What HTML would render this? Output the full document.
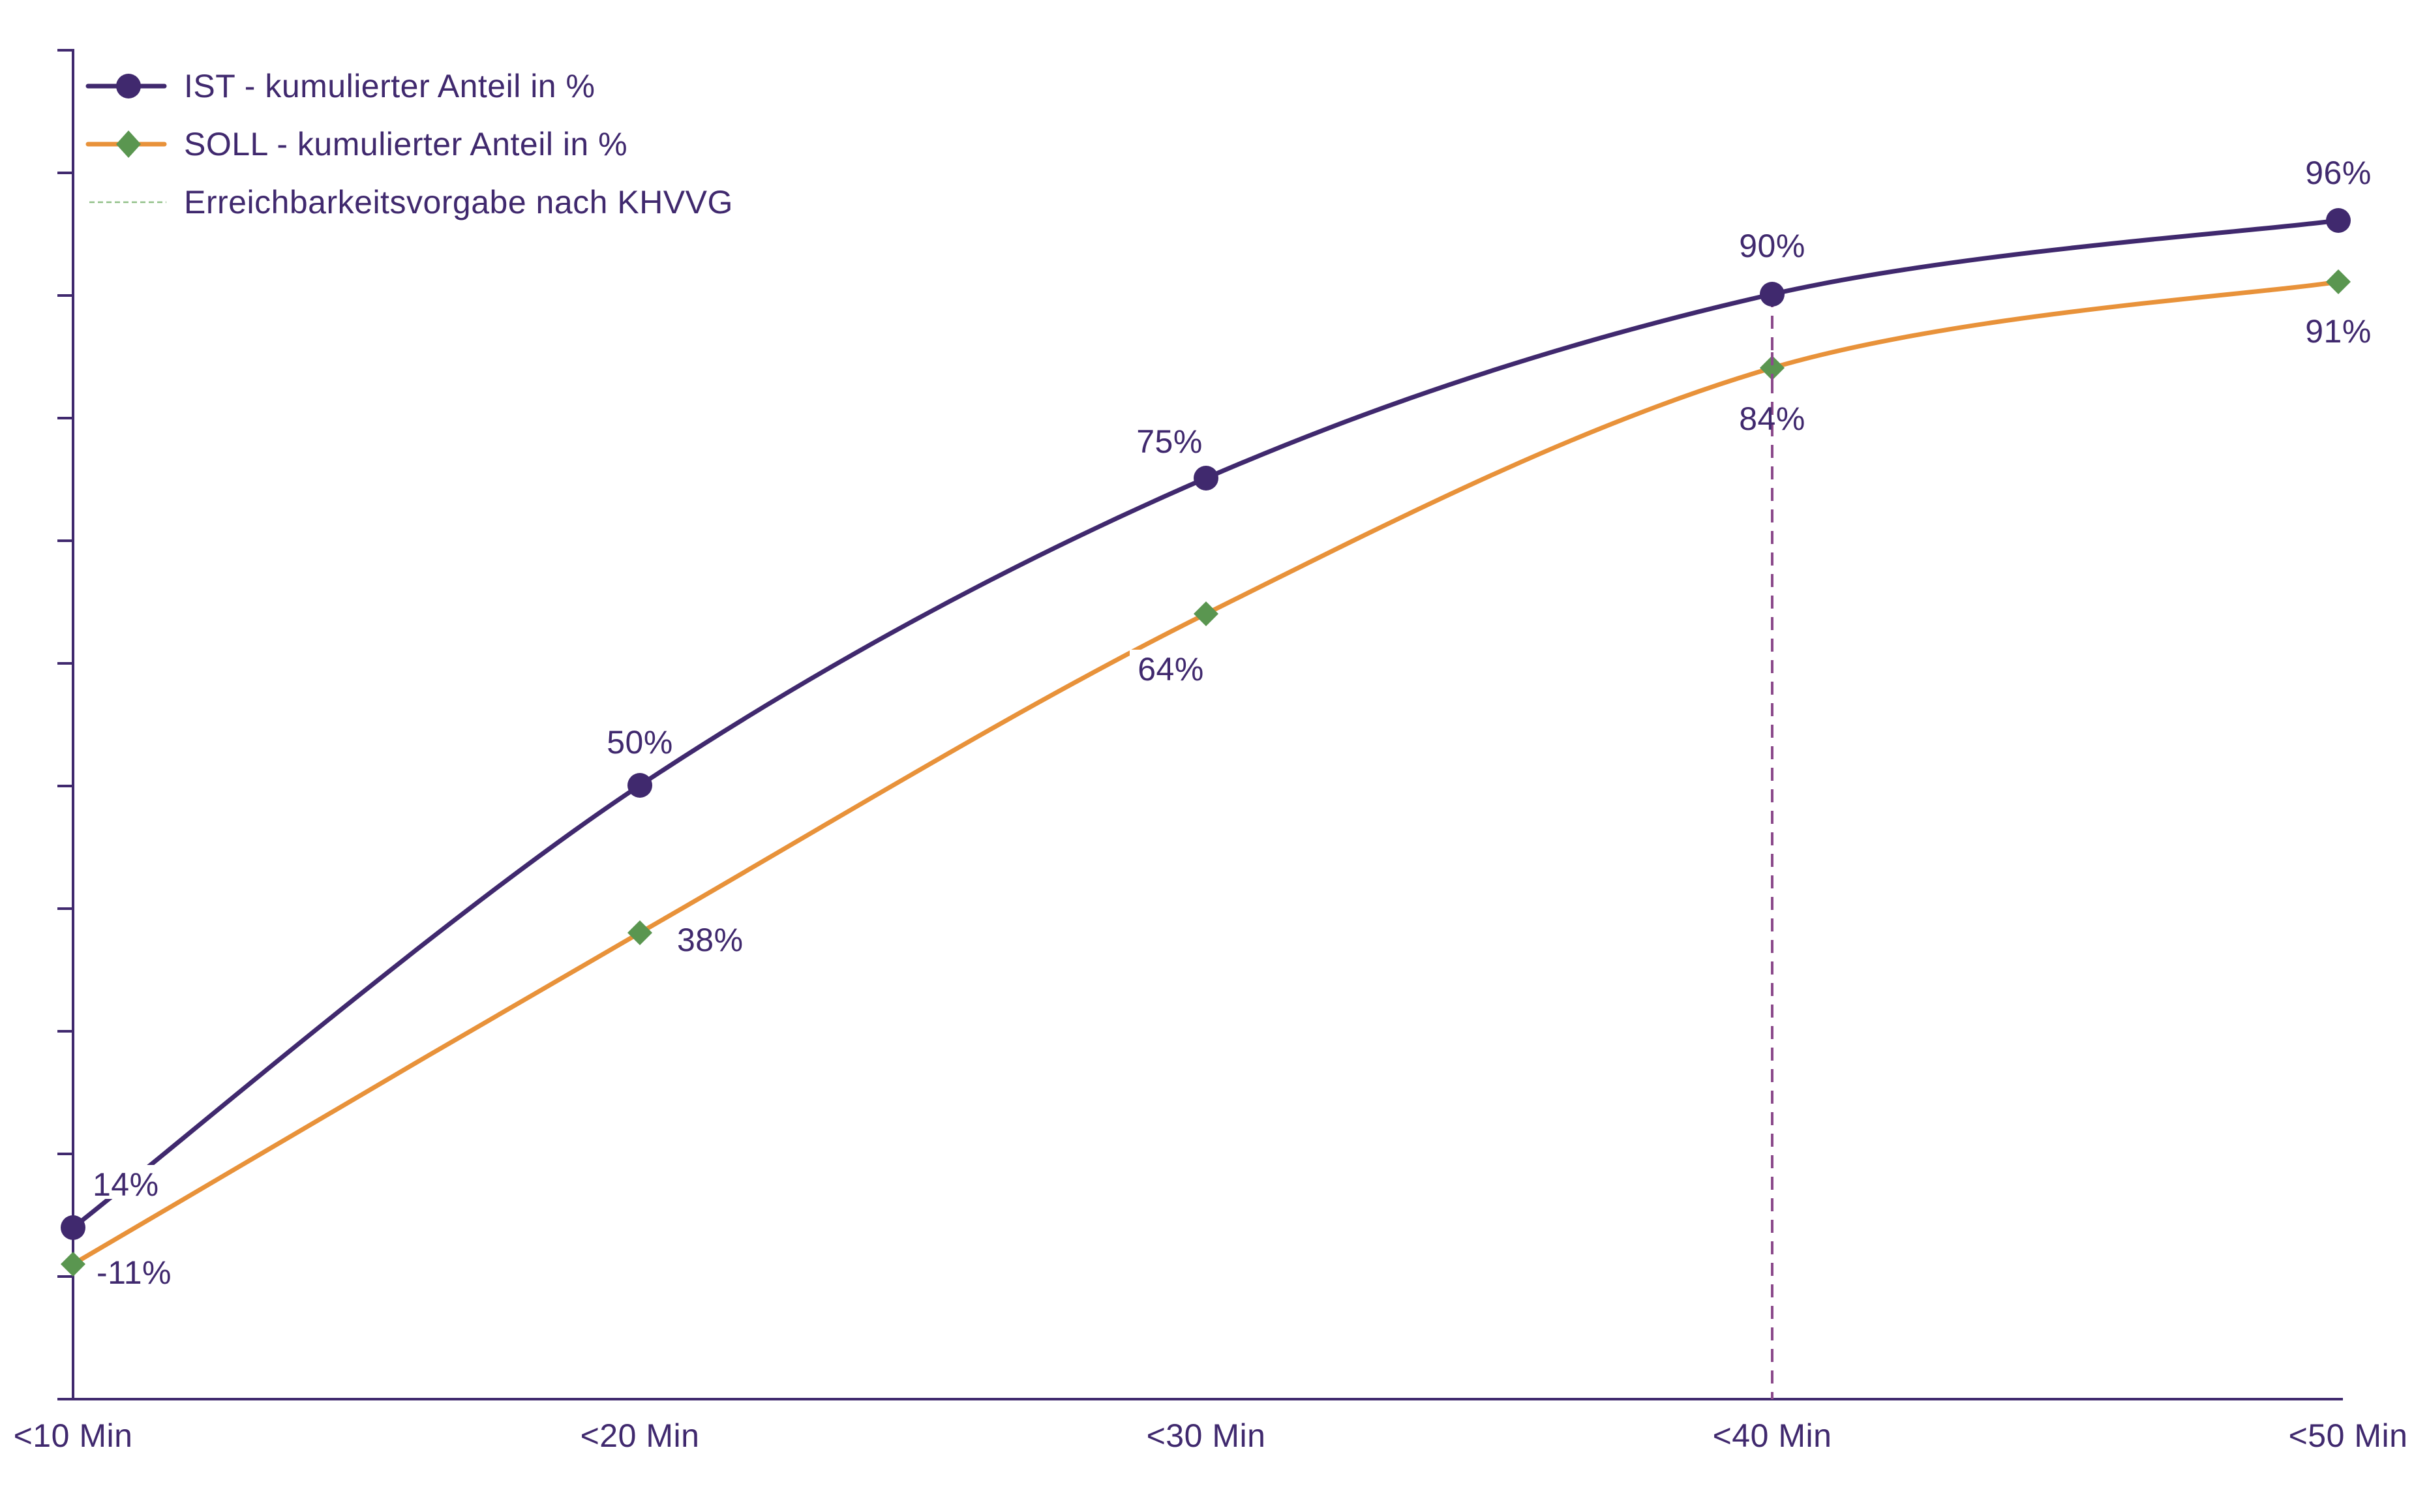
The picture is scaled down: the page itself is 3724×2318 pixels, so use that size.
<!DOCTYPE html>
<html><head><meta charset="utf-8"><style>
html,body{margin:0;padding:0;background:#fff;}
svg{display:block;}
text{font-family:"Liberation Sans",sans-serif;fill:#40296E;font-size:50px;letter-spacing:0.5px;}
</style></head><body>
<svg width="3724" height="2318" viewBox="0 0 3724 2318" xmlns="http://www.w3.org/2000/svg">
<g stroke="#40296E" stroke-width="4" fill="none">
<line x1="112" y1="75" x2="112" y2="2147"/>
<line x1="88" y1="2145" x2="3592" y2="2145"/>
<line x1="88" y1="77" x2="112" y2="77"/>
<line x1="88" y1="265" x2="112" y2="265"/>
<line x1="88" y1="453" x2="112" y2="453"/>
<line x1="88" y1="641" x2="112" y2="641"/>
<line x1="88" y1="829" x2="112" y2="829"/>
<line x1="88" y1="1017" x2="112" y2="1017"/>
<line x1="88" y1="1205" x2="112" y2="1205"/>
<line x1="88" y1="1393" x2="112" y2="1393"/>
<line x1="88" y1="1581" x2="112" y2="1581"/>
<line x1="88" y1="1769" x2="112" y2="1769"/>
<line x1="88" y1="1957" x2="112" y2="1957"/>
</g>
<line x1="2717" y1="451" x2="2717" y2="2145" stroke="#8B4A8B" stroke-width="4" stroke-dasharray="20,13"/>
<path d="M112,1938 C256.8,1853.3 691.5,1596.2 981,1430 C1270.5,1263.8 1559.7,1085.3 1849,941 C2138.3,796.7 2427.7,648.8 2717,564 C3006.3,479.2 3440.3,454 3585,432" fill="none" stroke="#E8923A" stroke-width="7"/>
<path d="M112,1882 C256.8,1769 691.5,1395.5 981,1204 C1270.5,1012.5 1559.7,858.5 1849,733 C2138.3,607.5 2427.7,516.8 2717,451 C3006.3,385.2 3440.3,356.8 3585,338" fill="none" stroke="#40296E" stroke-width="7"/>
<g fill="#fff">
<rect x="138" y="1786" width="118" height="52"/>
<rect x="1732" y="996" width="124" height="58"/>
</g>
<g fill="#40296E">
<circle cx="112" cy="1882" r="19"/>
<circle cx="981" cy="1204" r="19"/>
<circle cx="1849" cy="733" r="19"/>
<circle cx="2717" cy="451" r="19"/>
<circle cx="3585" cy="338" r="19"/>
</g>
<g fill="#5A9650">
<polygon points="112,1919 131,1938 112,1957 93,1938"/>
<polygon points="981,1411 1000,1430 981,1449 962,1430"/>
<polygon points="1849,922 1868,941 1849,960 1830,941"/>
<polygon points="2717,545 2736,564 2717,583 2698,564"/>
<polygon points="3585,413 3604,432 3585,451 3566,432"/>
</g>
<line x1="2717" y1="540" x2="2717" y2="590" stroke="#8B4A8B" stroke-width="4" stroke-dasharray="20,13"/>
<text x="142" y="1833">14%</text>
<text x="148" y="1968">-11%</text>
<text x="981" y="1155" text-anchor="middle">50%</text>
<text x="1038" y="1458">38%</text>
<text x="1793" y="694" text-anchor="middle">75%</text>
<text x="1795" y="1043" text-anchor="middle">64%</text>
<text x="2717" y="394" text-anchor="middle">90%</text>
<text x="2717" y="659" text-anchor="middle">84%</text>
<text x="3585" y="282" text-anchor="middle">96%</text>
<text x="3585" y="525" text-anchor="middle">91%</text>
<text x="112" y="2218" text-anchor="middle">&lt;10 Min</text>
<text x="981" y="2218" text-anchor="middle">&lt;20 Min</text>
<text x="1849" y="2218" text-anchor="middle">&lt;30 Min</text>
<text x="2717" y="2218" text-anchor="middle">&lt;40 Min</text>
<text x="3600" y="2218" text-anchor="middle">&lt;50 Min</text>
<line x1="135" y1="132" x2="252" y2="132" stroke="#40296E" stroke-width="7" stroke-linecap="round"/>
<circle cx="197" cy="132" r="19" fill="#40296E"/>
<text x="282" y="149">IST - kumulierter Anteil in %</text>
<line x1="135" y1="221" x2="252" y2="221" stroke="#E8923A" stroke-width="7" stroke-linecap="round"/>
<polygon points="197,200 216,221 197,242 178,221" fill="#5A9650"/>
<text x="282" y="238">SOLL - kumulierter Anteil in %</text>
<line x1="137" y1="310" x2="255" y2="310" stroke="#8FBF86" stroke-width="2.5" stroke-dasharray="8,5"/>
<text x="282" y="327">Erreichbarkeitsvorgabe nach KHVVG</text>
</svg>
</body></html>
